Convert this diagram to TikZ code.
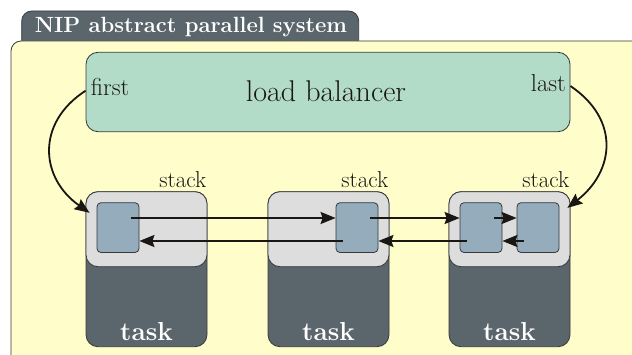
\documentclass[tikz,border=0pt]{standalone}
\usetikzlibrary{arrows.meta,calc}
\definecolor{slate}{RGB}{91,101,108}
\definecolor{paleyellow}{RGB}{255,253,202}
\definecolor{lbgreen}{RGB}{178,220,200}
\definecolor{lightgrey}{RGB}{221,221,221}
\definecolor{stackblue}{RGB}{148,172,188}
\definecolor{edge}{RGB}{55,58,60}
\definecolor{arrowcol}{RGB}{25,22,20}
\begin{document}
\begin{tikzpicture}[x=1pt,y=1pt,
  taskbox/.style={draw=edge,line width=0.8pt,fill=slate,rounded corners=12pt,minimum width=121pt,minimum height=155pt,inner sep=0pt},
  stackarea/.style={draw=edge,line width=0.8pt,fill=lightgrey,rounded corners=12pt,minimum width=121pt,minimum height=75pt,inner sep=0pt},
  cell/.style={draw=edge,line width=0.8pt,fill=stackblue,rounded corners=4pt,minimum width=42pt,minimum height=49.8pt,inner sep=0pt},
  conn/.style={draw=arrowcol,line width=1.8pt,-{Stealth[length=15pt,width=12pt,inset=2pt]}},
  stacklbl/.style={font=\fontsize{23}{25}\selectfont,text=arrowcol,inner sep=0pt,anchor=base east},
  tasklbl/.style={font=\fontsize{26}{28}\selectfont\bfseries,text=white,inner sep=0pt,anchor=base},
  plainlbl/.style={font=\fontsize{24.5}{26}\selectfont,text=arrowcol,inner sep=0pt},
]
\useasboundingbox (0,0) rectangle (632,354);
\fill[white] (0,0) rectangle (632,354);
% title tab
\draw[fill=slate,draw=edge,line width=0.8pt,rounded corners=10pt] (21.7,300) -- (21.7,343) -- (358.7,343) -- (358.7,300);
\node[font=\fontsize{22}{24}\selectfont\bfseries,text=white,inner sep=0pt,anchor=base] (title) at (191,321.3) {NIP abstract parallel system};
% main area
\fill[paleyellow,rounded corners=10pt] (11,-20) rectangle (660,313);
\draw[draw=edge,line width=0.8pt,rounded corners=10pt] (11,-20) -- (11,313) -- (660,313);
% load balancer
\node[draw=edge,line width=0.8pt,fill=lbgreen,rounded corners=12pt,minimum width=484pt,minimum height=79.4pt,inner sep=0pt] (lb) at (328,262) {};
\node[font=\fontsize{30}{32}\selectfont,text=arrowcol,inner sep=0pt,anchor=base] (lbtext) at (326,252.3) {load balancer};
\node[plainlbl,anchor=base west] (first) at (90.7,258.3) {first};
\node[plainlbl,anchor=base east] (last) at (566,262.3) {last};
% tasks
\foreach \i/\cx in {1/146.5,2/328.5,3/509.5}{
  \node[taskbox] (t\i) at (\cx,84.8) {};
  \node[stackarea] (s\i) at (\cx,124.8) {};
  \node[stacklbl] (st\i) at ($(s\i.north east)+(-1,4.2)$) {stack};
  \node[tasklbl] (tl\i) at ($(t\i.south)+(0,6.7)$) {task};
}
\node[cell] (k1) at (118,126.4) {};
\node[cell] (k2) at (357,126.4) {};
\node[cell] (k3) at (481,126.4) {};
\node[cell] (k4) at (538,126.4) {};
% pointers between stacks
\foreach \a/\b in {k1/k2,k2/k3,k3/k4}{
  \draw[conn] ($(\a.east)+(-8,9.6)$) -- ($(\b.west)+(0,9.6)$);
  \draw[conn] ($(\b.west)+(7,-13.4)$) -- ($(\a.east)+(0,-13.4)$);
}
% first / last
\coordinate (fin) at ($(s1.north west)+(4,-21.5)$);
\coordinate (lin) at ($(s3.north east)+(-3,-16.6)$);
\draw[conn] ($(lb.west)+(0,1.3)$) .. controls +(213:60) and +(145:60) .. (fin);
\draw[conn] ($(lb.east)+(0,6)$) .. controls +(-34:60) and +(38:60) .. (lin);
\end{tikzpicture}
\end{document}
